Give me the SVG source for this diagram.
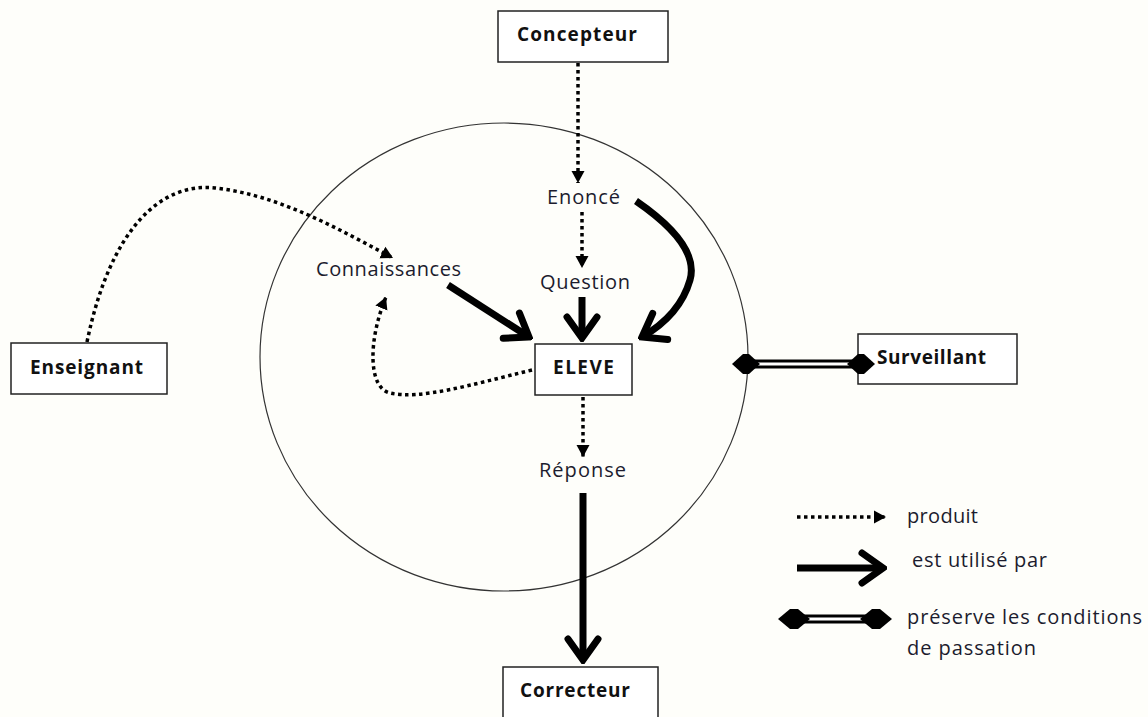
<svg xmlns="http://www.w3.org/2000/svg" width="1148" height="717" viewBox="0 0 1148 717">
<defs>
<style>
.box{fill:#fff;stroke:#222;stroke-width:1.5}
.bl{font-family:"Open Sans","Noto Sans",sans-serif;font-weight:bold;font-size:19px;fill:#111}
.lb{font-family:"Open Sans","Noto Sans",sans-serif;font-size:20px;fill:#1c1c2e}
.dot{fill:none;stroke:#000;stroke-width:3.5;stroke-dasharray:3.5 3.5}
.thick{fill:none;stroke:#000;stroke-width:7}
</style>
<marker id="tri" markerUnits="userSpaceOnUse" viewBox="-12 -7 13 14" refX="0" refY="0" markerWidth="13" markerHeight="14" orient="auto">
<path d="M-12,-6.5 L0,0 L-12,6.5 Z" fill="#000"/>
</marker>
<marker id="chev" markerUnits="userSpaceOnUse" viewBox="-26 -20 30 40" refX="0" refY="0" markerWidth="30" markerHeight="40" orient="auto">
<path d="M-21,-15 L0,0 L-21,15" fill="none" stroke="#000" stroke-width="7" stroke-linecap="round" stroke-linejoin="miter"/>
</marker>
<g id="dia"><path d="M-14,0 L-3,-10 L3,-10 L14,0 L3,10 L-3,10 Z" fill="#000"/></g>
<g id="dia2"><path d="M-16,0 L-4,-10 L4,-10 L16,0 L4,10 L-4,10 Z" fill="#000"/></g>
</defs>
<rect width="1148" height="717" fill="#fefefa"/>
<ellipse cx="504" cy="357" rx="244" ry="234" fill="none" stroke="#333" stroke-width="1.2"/>
<g id="concepteur"><rect class="box" x="498" y="11" width="170" height="51"/><text class="bl" x="517" y="41" textLength="120">Concepteur</text></g>
<g id="eleve"><rect class="box" x="535" y="344" width="97" height="51"/><text class="bl" x="553" y="374" textLength="61">ELEVE</text></g>
<g id="enseignant"><rect class="box" x="11" y="343" width="156" height="51"/><text class="bl" x="30" y="374" textLength="113">Enseignant</text></g>
<g id="surveillant"><rect class="box" x="858" y="334" width="159" height="50"/><text class="bl" x="877" y="364" textLength="109">Surveillant</text></g>
<g id="correcteur"><rect class="box" x="503" y="667" width="155" height="60"/><text class="bl" x="520" y="697" textLength="110">Correcteur</text></g>
<g id="enonce"><text class="lb" x="547" y="204" textLength="73">Enoncé</text></g>
<g id="question"><text class="lb" x="540" y="289" textLength="90">Question</text></g>
<g id="connaissances"><text class="lb" x="316" y="276" textLength="145">Connaissances</text></g>
<g id="reponse"><text class="lb" x="539" y="477" textLength="87">Réponse</text></g>
<g id="connectors">
<path class="dot" d="M578,63 L578,183" marker-end="url(#tri)"/>
<path class="dot" d="M582,212 L582,268" marker-end="url(#tri)"/>
<path class="thick" d="M582,297 L582,338" marker-end="url(#chev)"/>
<path class="thick" d="M636,201 Q700,245 690,280 Q680,315 642,337" marker-end="url(#chev)"/>
<path class="thick" d="M448,285 L529,337" marker-end="url(#chev)"/>
<path class="dot" d="M532,370 C470,385 420,400 390,393 C368,388 368,340 386,297" marker-end="url(#tri)"/>
<path class="dot" d="M87,342 C110,230 160,182 215,188 C280,195 340,230 393,258" marker-end="url(#tri)"/>
<path class="dot" d="M583,397 L583,457" marker-end="url(#tri)"/>
<path class="thick" d="M583,493 L583,660" marker-end="url(#chev)"/>
<line x1="752" y1="364" x2="856" y2="364" stroke="#000" stroke-width="9"/>
<line x1="756" y1="364" x2="852" y2="364" stroke="#fff" stroke-width="3"/>
<use href="#dia" x="746" y="364"/>
<use href="#dia" x="861" y="364"/>
</g>
<g id="legend">
<path class="dot" d="M797,517 L886,517" marker-end="url(#tri)"/>
<text class="lb" x="907" y="523" textLength="71">produit</text>
<path class="thick" d="M797,568 L883,568" marker-end="url(#chev)"/>
<text class="lb" x="912" y="567" textLength="135">est utilisé par</text>
<line x1="794" y1="619" x2="876" y2="619" stroke="#000" stroke-width="9"/>
<line x1="800" y1="619" x2="870" y2="619" stroke="#fff" stroke-width="3"/>
<use href="#dia2" x="794" y="619"/>
<use href="#dia2" x="876" y="619"/>
<text class="lb" x="907" y="624" textLength="235">préserve les conditions</text>
<text class="lb" x="907" y="655" textLength="129">de passation</text>
</g>
</svg>
